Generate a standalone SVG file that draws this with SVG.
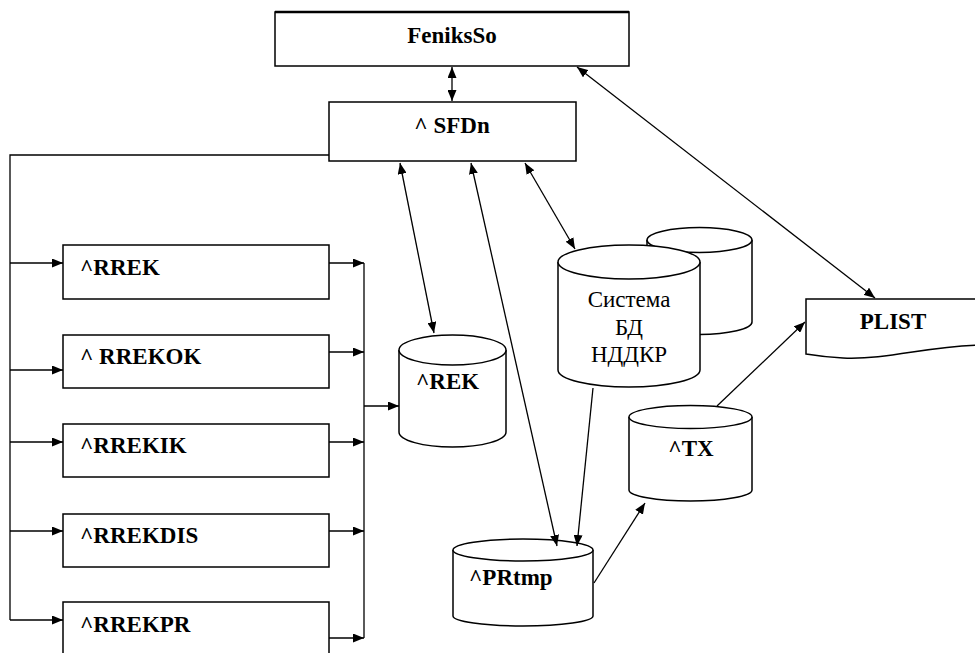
<svg xmlns="http://www.w3.org/2000/svg" width="975" height="653" viewBox="0 0 975 653">
<style>
.bx{fill:#fff;stroke:#000;stroke-width:1.5}
.cy{fill:#fff;stroke:#000;stroke-width:1.5}
.ln{fill:none;stroke:#000;stroke-width:1.3}
.t{font-family:'Liberation Serif','DejaVu Serif',serif;font-size:23px;font-weight:bold;fill:#000}
.r{font-family:'Liberation Serif','DejaVu Serif',serif;font-size:23px;fill:#000}
.m{text-anchor:middle}
</style>
<defs>
<marker id="ah" viewBox="0 0 11 9" refX="11" refY="4.5" markerWidth="11" markerHeight="9" markerUnits="userSpaceOnUse" orient="auto-start-reverse">
<path d="M0,0 L11,4.5 L0,9 Z" fill="#000"/>
</marker>
</defs>
<rect width="975" height="653" fill="#fff"/>

<g id="FeniksSo">
<rect class="bx" x="275" y="12" width="354" height="54"/>
<line x1="275" y1="12" x2="629" y2="12" stroke="#000" stroke-width="2.5"/>
<text class="t m" x="452" y="43" font-family="Liberation Serif, serif">FeniksSo</text>
</g>

<g id="SFDn">
<rect class="bx" x="329" y="102" width="247" height="59"/>
<text class="t m" x="452" y="133">^ SFDn</text>
</g>

<g id="RREK">
<rect class="bx" x="63" y="245" width="266" height="54"/>
<text class="t" x="80" y="275">^RREK</text>
</g>
<g id="RREKOK">
<rect class="bx" x="63" y="335" width="266" height="53"/>
<text class="t" x="80" y="364">^ RREKOK</text>
</g>
<g id="RREKIK">
<rect class="bx" x="63" y="424" width="266" height="53"/>
<text class="t" x="80" y="453">^RREKIK</text>
</g>
<g id="RREKDIS">
<rect class="bx" x="63" y="514" width="266" height="53"/>
<text class="t" x="80" y="543">^RREKDIS</text>
</g>
<g id="RREKPR">
<rect class="bx" x="63" y="602" width="266" height="60"/>
<text class="t" x="80" y="632">^RREKPR</text>
</g>

<g id="REK">
<path class="cy" d="M399,350 V432 A53.5,15 0 0 0 506,432 V350"/>
<ellipse class="cy" cx="452.5" cy="350" rx="53.5" ry="15"/>
<text class="t" x="416" y="389">^REK</text>
</g>

<g id="NDDKR">
<path class="cy" d="M647,240 V322 A52.5,12.5 0 0 0 752,322 V240"/>
<ellipse class="cy" cx="699.5" cy="240" rx="52.5" ry="12.5"/>
<path class="cy" d="M558,262 V370 A71,17 0 0 0 700,370 V262"/>
<ellipse class="cy" cx="629" cy="262" rx="71" ry="17"/>
<text class="r m" x="629" y="307">Система</text>
<text class="r m" x="629" y="335">БД</text>
<text class="r m" x="629" y="362">НДДКР</text>
</g>

<g id="PRtmp">
<path class="cy" d="M453,550 V616 A70,10 0 0 0 593,616 V550"/>
<ellipse class="cy" cx="523" cy="550" rx="70" ry="11"/>
<text class="t" x="469" y="585">^PRtmp</text>
</g>

<g id="TX">
<path class="cy" d="M629,417 V490 A61.5,11 0 0 0 752,490 V417"/>
<ellipse class="cy" cx="690.5" cy="417" rx="61.5" ry="11.5"/>
<text class="t m" x="691" y="456">^TX</text>
</g>

<g id="PLIST">
<path class="bx" d="M806,299 H985 V345 C930,345 890,360 843,358 C825,357 812,355 806,354 Z"/>
<text class="t m" x="893" y="329">PLIST</text>
</g>

<g id="connectors">
<line class="ln" x1="452" y1="67" x2="452" y2="101" marker-start="url(#ah)" marker-end="url(#ah)"/>
<line class="ln" x1="577" y1="67" x2="875" y2="298" marker-start="url(#ah)" marker-end="url(#ah)"/>
<line class="ln" x1="400" y1="163" x2="434" y2="333" marker-start="url(#ah)" marker-end="url(#ah)"/>
<line class="ln" x1="471" y1="163" x2="557" y2="546" marker-start="url(#ah)" marker-end="url(#ah)"/>
<line class="ln" x1="525" y1="163" x2="575" y2="249" marker-start="url(#ah)" marker-end="url(#ah)"/>
<line class="ln" x1="593" y1="388" x2="577" y2="546" marker-end="url(#ah)"/>
<line class="ln" x1="594" y1="583" x2="645" y2="503" marker-end="url(#ah)"/>
<line class="ln" x1="717" y1="406" x2="805" y2="322" marker-end="url(#ah)"/>
<polyline class="ln" points="329,155 10,155 10,620"/>
<line class="ln" x1="10" y1="263" x2="63" y2="263" marker-end="url(#ah)"/>
<line class="ln" x1="10" y1="370" x2="63" y2="370" marker-end="url(#ah)"/>
<line class="ln" x1="10" y1="442" x2="63" y2="442" marker-end="url(#ah)"/>
<line class="ln" x1="10" y1="531" x2="63" y2="531" marker-end="url(#ah)"/>
<line class="ln" x1="10" y1="620" x2="63" y2="620" marker-end="url(#ah)"/>
<line class="ln" x1="329" y1="263" x2="364" y2="263" marker-end="url(#ah)"/>
<line class="ln" x1="329" y1="352" x2="364" y2="352" marker-end="url(#ah)"/>
<line class="ln" x1="329" y1="442" x2="364" y2="442" marker-end="url(#ah)"/>
<line class="ln" x1="329" y1="531" x2="364" y2="531" marker-end="url(#ah)"/>
<line class="ln" x1="329" y1="638" x2="364" y2="638" marker-end="url(#ah)"/>
<line class="ln" x1="364" y1="263" x2="364" y2="638"/>
<line class="ln" x1="364" y1="406" x2="399" y2="406" marker-end="url(#ah)"/>
</g>
</svg>
